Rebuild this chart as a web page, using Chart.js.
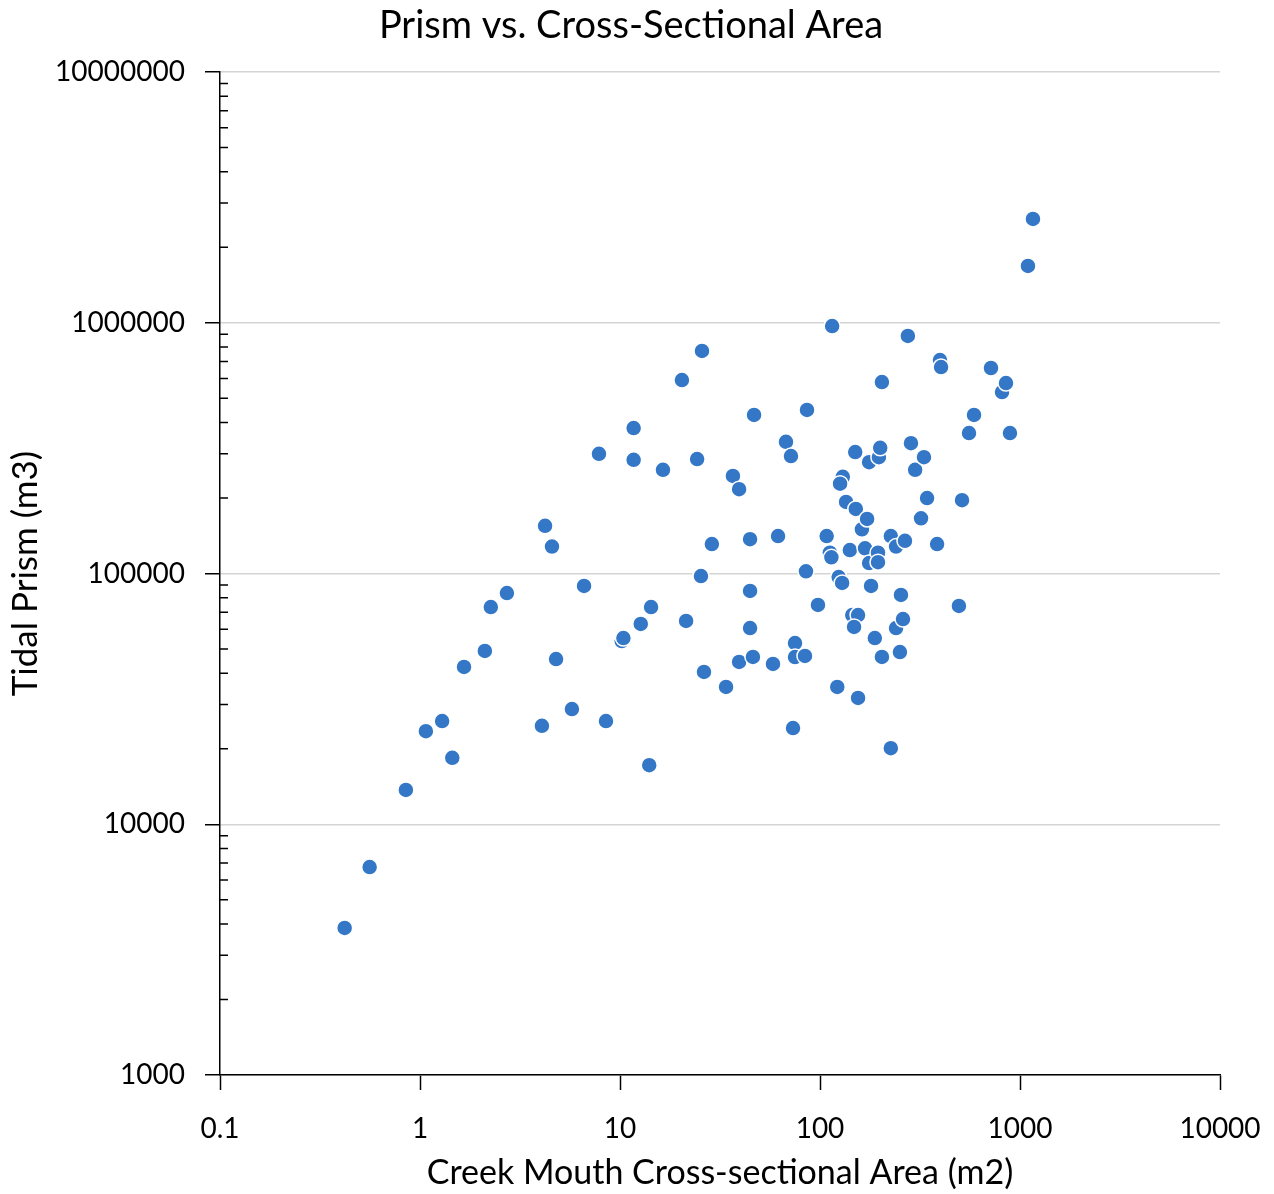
<!DOCTYPE html>
<html>
<head>
<meta charset="utf-8">
<title>Prism vs. Cross-Sectional Area</title>
<script src="https://cdn.jsdelivr.net/npm/chart.js@4.4.1/dist/chart.umd.min.js"></script>
<style>
    html, body { margin: 0; padding: 0; background: #ffffff; }
    canvas { display: block; }
</style>
</head>
<body>
<canvas id="graficoPrisma" width="1274" height="1194"></canvas>
<script>
// ==========================================
// DATA
// ==========================================

// creek mouth cross-sectional area (m2)
const creekArea = [
    0.42, 0.56, 0.85, 1.07, 1.29, 1.45, 1.66, 2.11, 2.26, 2.72,
    4.22, 4.57, 4.07, 4.79, 5.75, 6.61, 7.85, 8.51, 10.2, 10.4,
    11.7, 11.7, 12.7, 14.0, 14.3, 16.4, 20.4, 21.4, 24.3, 25.4,
    25.7, 26.3, 28.8, 33.9, 36.7, 39.4, 39.4, 44.7, 44.7, 44.7,
    46.2, 46.8, 58.2, 61.7, 67.6, 71.6, 73.3, 75.0, 75.0, 84.1,
    85.1, 86.1, 97.7, 108, 112, 114, 115, 122, 124, 129,
    130, 126, 135, 141, 150, 151, 145, 155, 148, 155,
    162, 172, 168, 176, 176, 180, 188, 195, 195, 197,
    200, 204, 204, 226, 226, 240, 240, 254, 251, 260,
    266, 275, 285, 299, 320, 331, 343, 385, 398, 403,
    495, 513, 556, 589, 716, 813, 851, 891, 1096, 1161
];

// tidal prism (m3)
const tidalPrism = [
    3860, 6750, 13700, 23500, 25800, 18400, 42400, 49100, 73500, 83600,
    155000, 128000, 24700, 45600, 28800, 89200, 300000, 25800, 53800, 55300,
    380000, 284000, 62900, 17200, 73500, 259000, 591000, 64700, 286000, 97700,
    772000, 40500, 131000, 35300, 245000, 217000, 44400, 137000, 85200, 60600,
    46500, 429000, 43600, 141000, 335000, 294000, 24200, 52800, 46400, 46900,
    102000, 449000, 74900, 141000, 121000, 116000, 970000, 35300, 96800, 91700,
    243000, 228000, 193000, 124000, 305000, 181000, 68300, 68300, 61200, 31900,
    150000, 165000, 126000, 278000, 110000, 89200, 55300, 121000, 111000, 291000,
    317000, 580000, 46500, 20100, 141000, 128000, 60600, 82100, 48600, 65800,
    135000, 886000, 331000, 259000, 166000, 291000, 200000, 131000, 710000, 666000,
    74200, 196000, 363000, 429000, 660000, 529000, 575000, 363000, 1684000, 2593000
];

const xTicks = [0.1, 1, 10, 100, 1000, 10000];
const yTicks = [1000, 10000, 100000, 1000000, 10000000];

const tituloTexto = "Prism vs. Cross-Sectional Area";
const fonte = "Lato, 'Open Sans', sans-serif";

document.addEventListener("DOMContentLoaded", function () {

    criarGraficoPrisma();

});

// ==========================================
// TITLE (centred on the whole picture, not on the plot)
// ==========================================
const tituloGrafico = {
    id: "tituloGrafico",
    afterDraw: function (chart) {
        const ctx = chart.ctx;
        ctx.save();
        ctx.fillStyle = "#000000";
        ctx.font = "38px " + fonte;
        ctx.textAlign = "center";
        ctx.textBaseline = "alphabetic";
        ctx.fillText(tituloTexto, 631, 38);
        ctx.restore();
    }
};

// ==========================================
// MINOR TICKS ON THE Y AXIS (pointing inside)
// ==========================================
const minorTicksY = {
    id: "minorTicksY",
    afterDraw: function (chart) {
        const escala = chart.scales.y;
        const ctx = chart.ctx;

        ctx.save();
        ctx.strokeStyle = "#000000";
        ctx.lineWidth = 1.5;
        ctx.beginPath();

        for (let i = 0; i < yTicks.length - 1; i++) {
            for (let m = 2; m <= 9; m++) {
                const py = escala.getPixelForValue(yTicks[i] * m);
                ctx.moveTo(escala.right, py);
                ctx.lineTo(escala.right + 8, py);
            }
        }

        ctx.stroke();
        ctx.restore();
    }
};

// ==========================================
// SCATTER CHART
// ==========================================
function criarGraficoPrisma() {
    const ctx = document.getElementById("graficoPrisma");
    if (!ctx) return;

    const pontos = creekArea.map(function (area, i) {
        return { x: area, y: tidalPrism[i] };
    });

    new Chart(ctx, {
        type: "scatter",
        data: {
            datasets: [{
                label: "Tidal Prism",
                data: pontos,
                backgroundColor: "#3477c7",
                borderColor: "#ffffff",
                borderWidth: 1.5,
                pointRadius: 8,
                pointHoverRadius: 8
            }]
        },
        options: {
            responsive: false,
            animation: false,
            layout: {
                padding: { left: 0, right: 54, top: 72, bottom: 0 }
            },
            plugins: {
                legend: { display: false },
                tooltip: { enabled: false },
                title: { display: false }
            },
            scales: {
                x: {
                    type: "logarithmic",
                    min: 0.1,
                    max: 10000,
                    afterBuildTicks: function (escala) {
                        escala.ticks = xTicks.map(function (v) { return { value: v }; });
                    },
                    afterFit: function (escala) {
                        escala.height = 119;
                        escala.paddingLeft = 0;
                        escala.paddingRight = 0;
                    },
                    grid: {
                        drawOnChartArea: false,
                        drawTicks: true,
                        tickLength: 15,
                        tickColor: "#000000",
                        tickWidth: 1.5
                    },
                    border: { display: true, color: "#000000", width: 1.5 },
                    ticks: {
                        color: "#000000",
                        font: { family: fonte, size: 28 },
                        padding: 22,
                        maxRotation: 0,
                        autoSkip: false,
                        callback: function (value) { return String(value); }
                    },
                    title: {
                        display: true,
                        text: "Creek Mouth Cross-sectional Area (m2)",
                        color: "#000000",
                        font: { family: fonte, size: 34, lineHeight: 1.2 },
                        padding: { top: 0, bottom: 1 }
                    }
                },
                y: {
                    type: "logarithmic",
                    min: 1000,
                    max: 10000000,
                    afterBuildTicks: function (escala) {
                        escala.ticks = yTicks.map(function (v) { return { value: v }; });
                    },
                    afterFit: function (escala) {
                        escala.width = 220;
                    },
                    grid: {
                        color: "#d4d4d4",
                        lineWidth: 1.5,
                        drawTicks: true,
                        tickLength: 15,
                        tickColor: "#000000",
                        tickWidth: 1.5
                    },
                    border: { display: true, color: "#000000", width: 1.5 },
                    ticks: {
                        color: "#000000",
                        font: { family: fonte, size: 28 },
                        padding: 20,
                        autoSkip: false,
                        callback: function (value) { return String(value); }
                    },
                    title: {
                        display: true,
                        text: "Tidal Prism (m3)",
                        color: "#000000",
                        font: { family: fonte, size: 35, lineHeight: 1.2 },
                        padding: { top: 5, bottom: 0 }
                    }
                }
            }
        },
        plugins: [minorTicksY, tituloGrafico]
    });
}
</script>
</body>
</html>
